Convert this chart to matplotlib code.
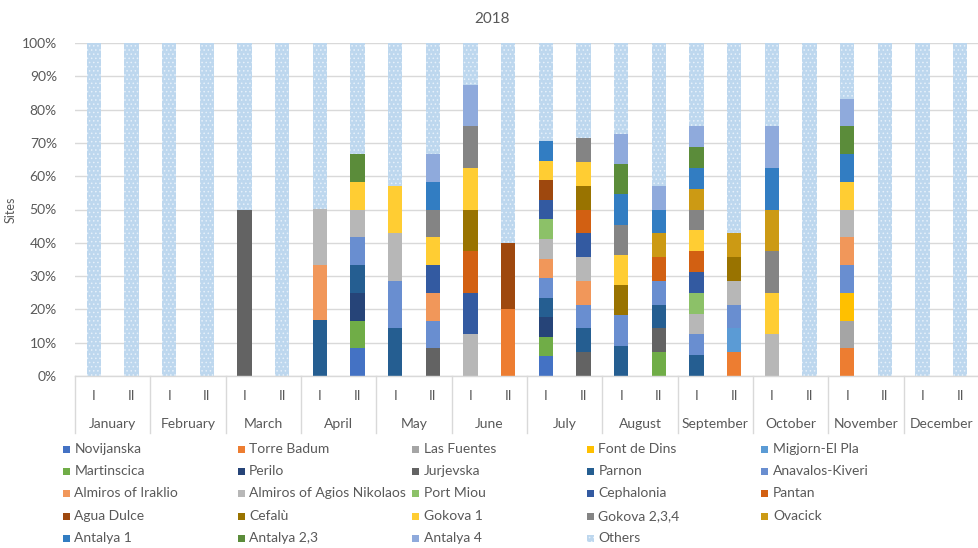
import matplotlib
matplotlib.use('Agg')
import matplotlib.pyplot as plt
import matplotlib.transforms as mtransforms
from matplotlib.patches import Rectangle
from matplotlib.lines import Line2D
import numpy as np

plt.rcParams['font.family'] = ['Lato', 'DejaVu Sans']
plt.rcParams['hatch.linewidth'] = 0.6

# categories: two halves per month
months = ['January', 'February', 'March', 'April', 'May', 'June', 'July',
          'August', 'September', 'October', 'November', 'December']
halves = ['I', 'II']

# series values (% of sites), 24 entries = (month, half)
Novijanska = [0,0, 0,0, 0,0, 0,8.33, 0,0, 0,0, 5.88,0, 0,0, 0,0, 0,0, 0,0, 0,0]
Torre_Badum = [0,0, 0,0, 0,0, 0,0, 0,0, 0,20, 0,0, 0,0, 0,7.14, 0,0, 8.33,0, 0,0]
Las_Fuentes = [0,0, 0,0, 0,0, 0,0, 0,0, 0,0, 0,0, 0,0, 0,0, 0,0, 8.33,0, 0,0]
Font_de_Dins = [0,0, 0,0, 0,0, 0,0, 0,0, 0,0, 0,0, 0,0, 0,0, 0,0, 8.33,0, 0,0]
Migjorn = [0,0, 0,0, 0,0, 0,0, 0,0, 0,0, 0,0, 0,0, 0,7.14, 0,0, 0,0, 0,0]
Martinscica = [0,0, 0,0, 0,0, 0,8.33, 0,0, 0,0, 5.88,0, 0,7.14, 0,0, 0,0, 0,0, 0,0]
Perilo = [0,0, 0,0, 0,0, 0,8.33, 0,0, 0,0, 5.88,0, 0,0, 0,0, 0,0, 0,0, 0,0]
Jurjevska = [0,0, 0,0, 50,0, 0,0, 0,8.33, 0,0, 0,7.14, 0,7.14, 0,0, 0,0, 0,0, 0,0]
Parnon = [0,0, 0,0, 0,0, 16.67,8.33, 14.29,0, 0,0, 5.88,7.14, 9.09,7.14, 6.25,0, 0,0, 0,0, 0,0]
Anavalos = [0,0, 0,0, 0,0, 0,8.33, 14.29,8.33, 0,0, 5.88,7.14, 9.09,7.14, 6.25,7.14, 0,0, 8.33,0, 0,0]
Iraklio = [0,0, 0,0, 0,0, 16.67,0, 0,8.33, 0,0, 5.88,7.14, 0,0, 0,0, 0,0, 8.33,0, 0,0]
Agios_Nikolaos = [0,0, 0,0, 0,0, 16.67,8.33, 14.29,0, 12.5,0, 5.88,7.14, 0,0, 6.25,7.14, 12.5,0, 8.33,0, 0,0]
Port_Miou = [0,0, 0,0, 0,0, 0,0, 0,0, 0,0, 5.88,0, 0,0, 6.25,0, 0,0, 0,0, 0,0]
Cephalonia = [0,0, 0,0, 0,0, 0,0, 0,8.33, 12.5,0, 5.88,7.14, 0,0, 6.25,0, 0,0, 0,0, 0,0]
Pantan = [0,0, 0,0, 0,0, 0,0, 0,0, 12.5,0, 0,7.14, 0,7.14, 6.25,0, 0,0, 0,0, 0,0]
Agua_Dulce = [0,0, 0,0, 0,0, 0,0, 0,0, 0,20, 5.88,0, 0,0, 0,0, 0,0, 0,0, 0,0]
Cefalu = [0,0, 0,0, 0,0, 0,0, 0,0, 12.5,0, 0,7.14, 9.09,0, 0,7.14, 0,0, 0,0, 0,0]
Gokova_1 = [0,0, 0,0, 0,0, 0,8.33, 14.29,8.33, 12.5,0, 5.88,7.14, 9.09,0, 6.25,0, 12.5,0, 8.33,0, 0,0]
Gokova_234 = [0,0, 0,0, 0,0, 0,0, 0,8.33, 12.5,0, 0,7.14, 9.09,0, 6.25,0, 12.5,0, 0,0, 0,0]
Ovacick = [0,0, 0,0, 0,0, 0,0, 0,0, 0,0, 0,0, 0,7.14, 6.25,7.14, 12.5,0, 0,0, 0,0]
Antalya_1 = [0,0, 0,0, 0,0, 0,0, 0,8.33, 0,0, 5.88,0, 9.09,7.14, 6.25,0, 12.5,0, 8.33,0, 0,0]
Antalya_23 = [0,0, 0,0, 0,0, 0,8.33, 0,0, 0,0, 0,0, 9.09,0, 6.25,0, 0,0, 8.33,0, 0,0]
Antalya_4 = [0,0, 0,0, 0,0, 0,0, 0,8.33, 12.5,0, 0,0, 9.09,7.14, 6.25,0, 12.5,0, 8.33,0, 0,0]
Others = [100,100, 100,100, 50,100, 50,33.33, 42.86,33.33, 12.5,60, 29.41,28.57,
          27.27,42.86, 25,57.14, 25,100, 16.67,100, 100,100]

names = ['Novijanska', 'Torre Badum', 'Las Fuentes', 'Font de Dins', 'Migjorn-El Pla',
         'Martinscica', 'Perilo', 'Jurjevska', 'Parnon', 'Anavalos-Kiveri',
         'Almiros of Iraklio', 'Almiros of Agios Nikolaos', 'Port Miou', 'Cephalonia', 'Pantan',
         'Agua Dulce', 'Cefalù', 'Gokova 1', 'Gokova 2,3,4', 'Ovacick',
         'Antalya 1', 'Antalya 2,3', 'Antalya 4', 'Others']
series = [Novijanska, Torre_Badum, Las_Fuentes, Font_de_Dins, Migjorn,
          Martinscica, Perilo, Jurjevska, Parnon, Anavalos,
          Iraklio, Agios_Nikolaos, Port_Miou, Cephalonia, Pantan,
          Agua_Dulce, Cefalu, Gokova_1, Gokova_234, Ovacick,
          Antalya_1, Antalya_23, Antalya_4, Others]
colors = ['#4472C4', '#ED7D31', '#A5A5A5', '#FFC000', '#5B9BD5',
          '#70AD47', '#264478', '#636363', '#255E91', '#698ED0',
          '#F1975A', '#B7B7B7', '#8CC168', '#335AA1', '#D26012',
          '#9E480E', '#997300', '#FFCD33', '#848484', '#CC9A14',
          '#327DC2', '#5B8C3A', '#8FAADC', '#BDD7EE']

W, H = 979, 548
fig = plt.figure(figsize=(W / 100, H / 100), dpi=100)
ax = fig.add_axes([75 / W, 1 - 376 / H, 904 / W, 333 / H])

x = np.arange(len(Others))
bottom = np.zeros(len(x))
for name, vals, col in zip(names, series, colors):
    vals = np.array(vals, dtype=float)
    if name == 'Others':
        ax.bar(x, vals, 0.38, bottom=bottom, facecolor=col, edgecolor='#E6F0FA',
               linewidth=0, hatch='....', zorder=2)
    else:
        ax.bar(x, vals, 0.38, bottom=bottom, color=col, linewidth=0, zorder=2)
    bottom += vals

txt = '#595959'
grid = '#D9D9D9'
fs = 10
ax.set_xlim(-0.5, len(x) - 0.5)
ax.set_ylim(0, 100)
ax.set_yticks(np.arange(0, 101, 10))
ax.set_yticklabels([f'{v}%' for v in range(0, 101, 10)], color=txt, fontsize=fs)
ax.tick_params(axis='y', length=0, pad=13)
ax.set_xticks([])
ax.grid(axis='y', color=grid, linewidth=1, zorder=0)
for s in ['top', 'right', 'left']:
    ax.spines[s].set_visible(False)
ax.spines['bottom'].set_color(grid)
ax.spines['bottom'].set_linewidth(1)
ax.set_ylabel('Sites', color=txt, fontsize=9)
ax.yaxis.set_label_coords((17 - 75) / 904, 0.5)

# two-level category axis
tr = mtransforms.blended_transform_factory(ax.transData, ax.transAxes)
for i in x:
    ax.text(i, -20 / 333, halves[i % 2], transform=tr, ha='center', va='center',
            color=txt, fontsize=fs)
for m, name in enumerate(months):
    ax.text(2 * m + 0.5, -48 / 333, name, transform=tr, ha='center', va='center',
            color=txt, fontsize=fs)
for m in range(len(months) + 1):
    ax.add_line(Line2D([2 * m - 0.5, 2 * m - 0.5], [0, -57 / 333], transform=tr,
                       color=grid, linewidth=1, clip_on=False))

fig.text(492 / W, 1 - 19 / H, '2018', ha='center', va='center', color=txt, fontsize=11)

# legend laid out as in the reference (5 columns, row-major)
for k, (name, col) in enumerate(zip(names, colors)):
    r, c = divmod(k, 5)
    lx = 63 + c * 174.6
    ly = [449, 471, 493, 516, 538][r]
    hatch = '....' if name == 'Others' else None
    fig.add_artist(Rectangle((lx / W, 1 - (ly + 3.5) / H), 7 / W, 7 / H,
                             transform=fig.transFigure, facecolor=col,
                             edgecolor='#E6F0FA' if hatch else col,
                             linewidth=0, hatch=hatch))
    fig.text((lx + 11.5) / W, 1 - ly / H, name, ha='left', va='center',
             color=txt, fontsize=fs)

fig.savefig('out.png', dpi=100)
